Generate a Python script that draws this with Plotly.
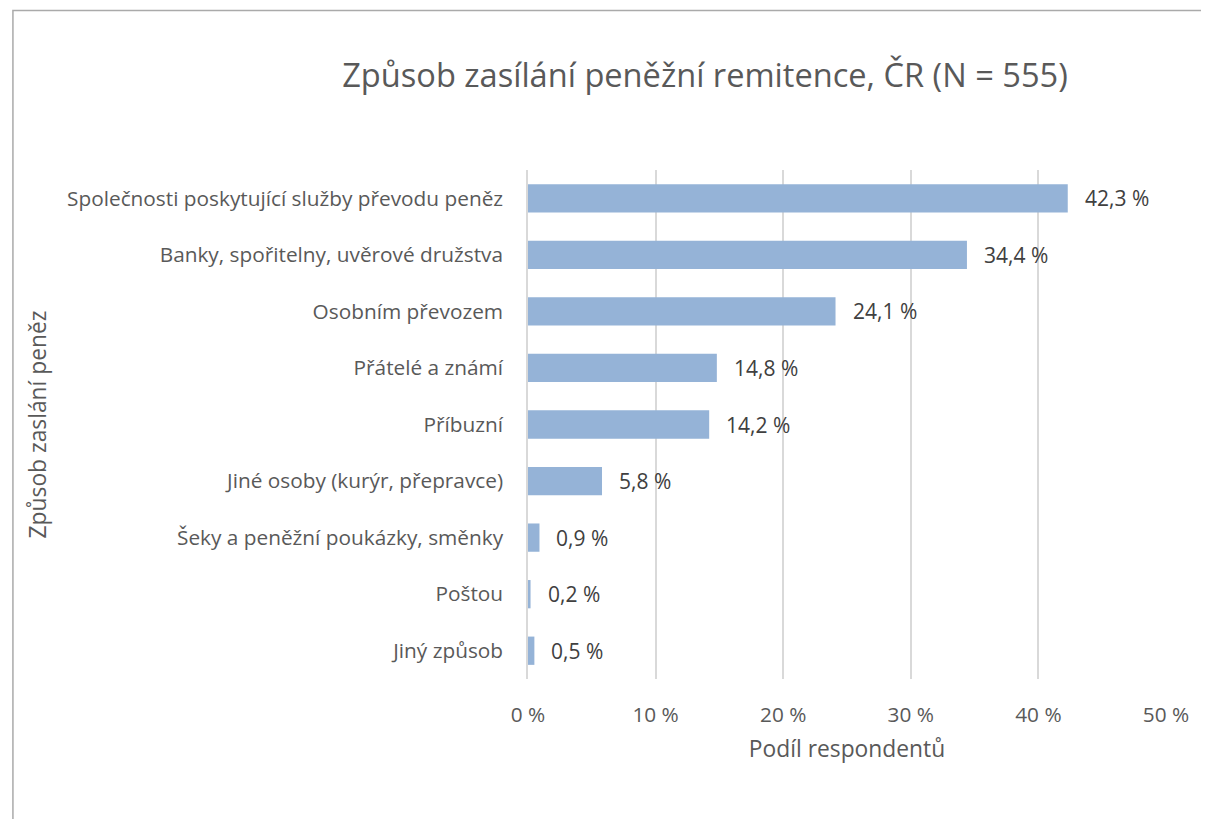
import plotly.graph_objects as go

categories = [
    "Společnosti poskytující služby převodu peněz",
    "Banky, spořitelny, uvěrové družstva",
    "Osobním převozem",
    "Přátelé a známí",
    "Příbuzní",
    "Jiné osoby (kurýr, přepravce)",
    "Šeky a peněžní poukázky, směnky",
    "Poštou",
    "Jiný způsob",
]
values = [42.3, 34.4, 24.1, 14.8, 14.2, 5.8, 0.9, 0.2, 0.5]
tick_vals = [0, 10, 20, 30, 40, 50]
tick_text = ["0 %", "10 %", "20 %", "30 %", "40 %", "50 %"]
labels = [f"{v:.1f} %".replace(".", ",") for v in values]

FONT = "'Open Sans', sans-serif"
GRAY = "#595959"
OFF = 8  # page body margin

fig = go.Figure()
fig.add_trace(go.Bar(
    y=categories, x=values, orientation="h",
    marker=dict(color="#95b3d7", line=dict(width=0)),
    width=0.5, hoverinfo="skip",
))
for c, v, t in zip(categories, values, labels):
    fig.add_annotation(x=v, y=c, text=t, showarrow=False, xanchor="left",
                       xshift=15, font=dict(size=21, color="#404040", family=FONT))

W, H = 1209 - 2 * OFF, 827 - 2 * OFF
L, R, T, B = 528 - OFF, 1169 - OFF, 170 - OFF, 679 - OFF
fig.update_layout(
    width=W, height=H,
    margin=dict(l=L, r=W - R, t=T, b=H - B),
    paper_bgcolor="white", plot_bgcolor="white",
    showlegend=False,
    title=dict(text="Způsob zasílání peněžní remitence, ČR (N = 555)",
               x=(705 - OFF) / W, xanchor="center", y=1 - (76 - OFF) / H, yanchor="middle",
               font=dict(size=32.6, color=GRAY, family=FONT)),
    font=dict(family=FONT, color=GRAY),
    xaxis=dict(range=[0, 50], tickvals=tick_vals, ticktext=tick_text,
               showgrid=True, gridcolor="#d9d9d9", gridwidth=1.5,
               zeroline=False, showline=False,
               tickfont=dict(size=20.8, color=GRAY), ticklabelstandoff=21,
               title=dict(text="Podíl respondentů", font=dict(size=22.8, color=GRAY),
                          standoff=14)),
    yaxis=dict(autorange="reversed", showgrid=False, zeroline=False,
               showline=True, linecolor="#d9d9d9", linewidth=1.5,
               tickfont=dict(size=20.8, color=GRAY), ticklabelstandoff=19,
               title=dict(text="Způsob zaslání peněz", font=dict(size=22.8, color=GRAY),
                          standoff=14)),
)
fig.add_shape(type="rect", xref="paper", yref="paper",
              x0=(10.5 - OFF - L) / (R - L), x1=(1230 - L) / (R - L),
              y0=(B - 850) / (B - T), y1=(B - (10.5 - OFF)) / (B - T),
              line=dict(color="#aaaaaa", width=1.5), layer="below")
fig.write_html("out.html")
